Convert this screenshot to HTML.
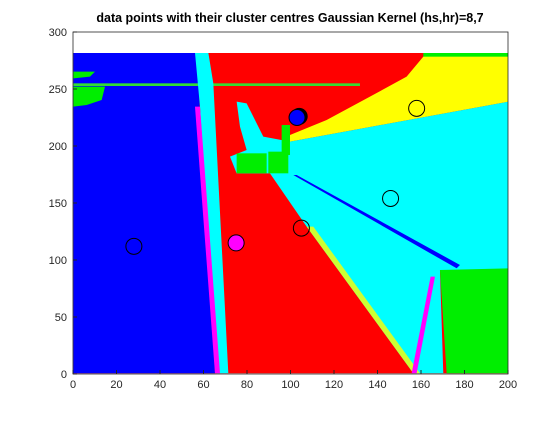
<!DOCTYPE html>
<html><head><meta charset="utf-8"><style>
body{margin:0;background:#fff;width:560px;height:420px;overflow:hidden;font-family:"Liberation Sans",sans-serif}
text{font-family:"Liberation Sans",sans-serif}
</style></head><body>
<svg width="560" height="420">
<rect width="560" height="420" fill="#fff"/>
<text x="290" y="22" text-anchor="middle" font-size="12.5" font-weight="bold">data points with their cluster centres Gaussian Kernel (hs,hr)=8,7</text>
<defs><clipPath id="c"><rect x="73" y="53" width="435" height="321"/></clipPath></defs>
<g clip-path="url(#c)">
<g transform="translate(60,40) scale(0.3333)">
<rect x="40" y="38" width="1305" height="962" fill="#f00"/>
<polygon points="40,38 410,38 465,1000 40,1000" fill="#00f"/>
<polygon points="40,95 105,95 90,110 40,115" fill="#0e0"/>
<polygon points="40,140 135,140 125,180 80,195 40,200" fill="#0e0"/>
<rect x="40" y="130" width="860" height="8" fill="#3d3"/>
<polygon points="405,38 445,38 460,130 505,1000 470,1000 420,200" fill="#0ff"/>
<polygon points="405,200 420,200 480,1000 465,1000" fill="#f0f"/>
<polygon points="1100,38 1345,38 1345,185 690,305 690,285 800,240 930,170 1040,110" fill="#ff0"/>
<rect x="1090" y="38" width="255" height="12" fill="#0e0"/>
<polygon points="530,185 560,190 610,290 690,305 1345,185 1345,690 1140,690 1150,1000 1060,1000 740,560 630,400 530,400 510,350 560,330 540,260" fill="#0ff"/>
<polygon points="740,560 760,560 1080,1000 1060,1000" fill="#ff0" opacity="0.8"/>
<rect x="530" y="340" width="90" height="60" fill="#0e0"/>
<rect x="625" y="335" width="60" height="65" fill="#0e0"/>
<rect x="665" y="255" width="25" height="90" fill="#0e0"/>
<polygon points="700,405 710,405 1200,675 1190,685" fill="#00f"/>
<polygon points="1140,690 1345,685 1345,1000 1160,1000" fill="#0e0"/>
<polygon points="1112,710 1125,710 1070,1000 1055,1000" fill="#f0f"/>
</g></g>
<g id="pts"></g>
<rect x="73" y="32" width="435" height="342" fill="none" stroke="#262626" stroke-width="0.8"/>
<g id="ticks" font-size="11" fill="#262626"></g>
<script>
const xTicks=[0,20,40,60,80,100,120,140,160,180,200];
const yTicks=[0,50,100,150,200,250,300];
const cx=[28,75,105,146,158,104,103];
const cy=[112,115,128,154,233,226,225];
const fills=['none','#f0f','none','none','none','#000','#00f'];
const X=v=>73+v*2.175, Y=v=>374-v*1.14;
const ns='http://www.w3.org/2000/svg';
const t=document.getElementById('ticks'), p=document.getElementById('pts');
xTicks.forEach(v=>{const e=document.createElementNS(ns,'text');e.setAttribute('x',X(v));e.setAttribute('y',388);e.setAttribute('text-anchor','middle');e.textContent=v;


t.appendChild(e);
const l=document.createElementNS(ns,'line');l.setAttribute('x1',X(v));l.setAttribute('x2',X(v));l.setAttribute('y1',374);l.setAttribute('y2',370);l.setAttribute('stroke','#262626');t.appendChild(l);});
yTicks.forEach(v=>{const e=document.createElementNS(ns,'text');e.setAttribute('x',67);e.setAttribute('y',Y(v)+4);e.setAttribute('text-anchor','end');e.textContent=v;


t.appendChild(e);
const l=document.createElementNS(ns,'line');l.setAttribute('x1',73);l.setAttribute('x2',77);l.setAttribute('y1',Y(v));l.setAttribute('y2',Y(v));l.setAttribute('stroke','#262626');t.appendChild(l);});
cx.forEach((v,i)=>{const c=document.createElementNS(ns,'circle');c.setAttribute('cx',X(v));c.setAttribute('cy',Y(cy[i]));c.setAttribute('r',8);c.setAttribute('fill',fills[i]);c.setAttribute('stroke','#000');


p.appendChild(c);});
</script>
</svg>
</body></html>
